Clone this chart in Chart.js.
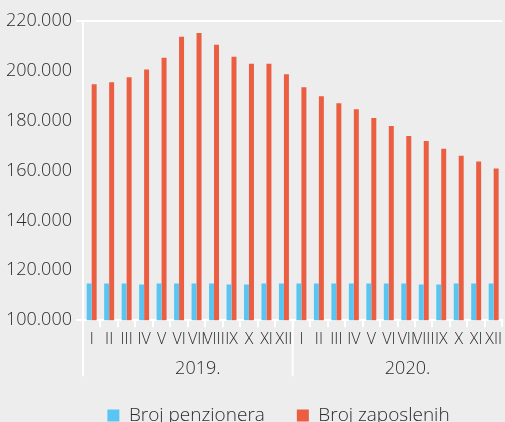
<!DOCTYPE html>
<html>
<head>
<meta charset="utf-8">
<script src="https://cdn.jsdelivr.net/npm/chart.js@4/dist/chart.umd.min.js"></script>
<style>
  html, body { margin: 0; padding: 0; background: #ededed; overflow: hidden; }
  #wrap { position: relative; width: 505px; height: 435px; }
</style>
</head>
<body>
<div id="wrap"><canvas id="chart"></canvas></div>
<script>
// months (roman numerals), two years
const months = ['I','II','III','IV','V','VI','VII','VIII','IX','X','XI','XII',
                'I','II','III','IV','V','VI','VII','VIII','IX','X','XI','XII'];
const years = ['2019.', '2020.'];

const penzioneri = [114700, 114700, 114700, 114300, 114700, 114700, 114700, 114700, 114300, 114300, 114700, 114700,
                    114700, 114700, 114700, 114700, 114700, 114700, 114700, 114300, 114300, 114700, 114700, 114700];
const zaposleni = [194600, 195400, 197400, 200500, 205300, 213700, 215200, 210500, 205700, 202900, 202900, 198600,
                   193400, 189800, 187000, 184600, 181100, 177900, 173900, 171900, 168800, 166000, 163600, 160800];

const fontFamily = '"Open Sans", sans-serif';
const textColor = '#2b2b2b';

// year row under the month labels + long separators
const yearGroups = {
  id: 'yearGroups',
  afterLayout(chart) {
    // legend sits a bit right of centre in the original
    chart.legend.left += 50;
  },
  afterDraw(chart) {
    const ctx = chart.ctx;
    const x = chart.scales.x;
    const bottom = chart.chartArea.bottom;
    const per = months.length / years.length;
    ctx.save();
    ctx.strokeStyle = '#ffffff';
    ctx.lineWidth = 2;
    for (let g = 0; g < years.length; g++) {
      const first = g * per, last = first + per - 1;
      const left = (x.getPixelForValue(first) + x.getPixelForValue(first - 1)) / 2;
      ctx.beginPath();
      ctx.moveTo(left, bottom);
      ctx.lineTo(left, bottom + 56);
      ctx.stroke();
      const mid = (x.getPixelForValue(first) + x.getPixelForValue(last)) / 2;
      ctx.fillStyle = textColor;
      ctx.font = '300 18px ' + fontFamily;
      ctx.textAlign = 'center';
      ctx.textBaseline = 'middle';
      ctx.fillText(years[g], mid + 10, bottom + 49);
    }
    ctx.restore();
  }
};

new Chart('chart', {
  type: 'bar',
  data: {
    labels: months,
    datasets: [{
      label: 'Broj penzionera',
      data: penzioneri,
      backgroundColor: '#5bc5f1',
      categoryPercentage: 0.57,
      barPercentage: 1
    }, {
      label: 'Broj zaposlenih',
      data: zaposleni,
      backgroundColor: '#eb5e42',
      categoryPercentage: 0.57,
      barPercentage: 1
    }]
  },
  options: {
    responsive: true,
    maintainAspectRatio: false,
    animation: false,
    layout: { padding: { top: 21, left: 2, right: 0, bottom: 0 } },
    scales: {
      x: {
        grid: { color: '#ffffff', lineWidth: 2, drawOnChartArea: false, tickLength: 7, offset: true },
        border: { color: '#ffffff', width: 2 },
        ticks: {
          autoSkip: false, maxRotation: 0, minRotation: 0, padding: 3,
          color: textColor, font: { family: fontFamily, size: 16, weight: 300 }
        },
        title: { display: true, text: ' ', font: { size: 18 }, padding: { top: 0, bottom: 0 } }
      },
      y: {
        min: 100000,
        max: 220000,
        grid: {
          color: (c) => (c.tick && (c.tick.value === 220000 || c.tick.value === 100000)) ? '#ffffff' : 'rgba(0,0,0,0)',
          lineWidth: 2, tickLength: 7
        },
        border: { color: '#ffffff', width: 2 },
        ticks: {
          stepSize: 20000, padding: 4, color: textColor,
          font: { family: fontFamily, size: 18, weight: 300 },
          callback: (v) => v.toLocaleString('de-DE')
        }
      }
    },
    plugins: {
      legend: {
        position: 'bottom',
        labels: {
          boxWidth: 12, boxHeight: 12, padding: 32,
          color: textColor, font: { family: fontFamily, size: 19, weight: 300 }
        }
      },
      tooltip: { enabled: false }
    }
  },
  plugins: [yearGroups]
});
</script>
</body>
</html>
